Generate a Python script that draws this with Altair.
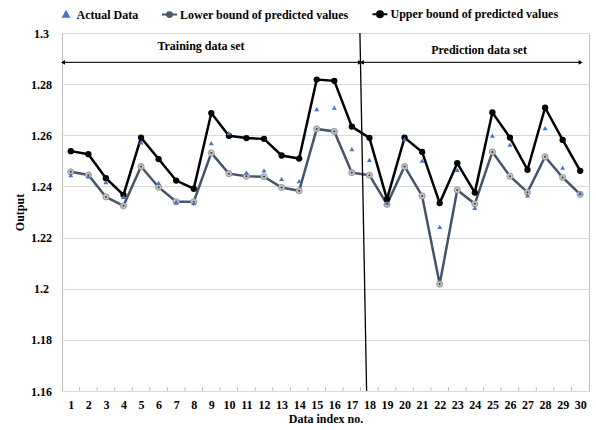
import altair as alt
import pandas as pd

# ---- data -------------------------------------------------------------
index = list(range(1, 31))

actual = [1.2444, 1.2439, 1.2417, 1.2359, 1.2572, 1.2414, 1.2339, 1.2335, 1.2569, 1.2608,
          1.2454, 1.2463, 1.2430, 1.2421, 1.2702, 1.2708, 1.2546, 1.2504, 1.2337, 1.2585,
          1.2501, 1.2242, 1.2465, 1.2316, 1.2599, 1.2563, 1.2365, 1.2628, 1.2474, 1.2374]

lower = [1.2457, 1.2445, 1.2359, 1.2324, 1.2478, 1.2397, 1.2340, 1.2340, 1.2531, 1.2450,
         1.2440, 1.2438, 1.2396, 1.2383, 1.2625, 1.2615, 1.2454, 1.2444, 1.2330, 1.2478,
         1.2363, 1.2018, 1.2386, 1.2332, 1.2535, 1.2440, 1.2377, 1.2516, 1.2435, 1.2369]

upper = [1.2538, 1.2526, 1.2432, 1.2367, 1.2591, 1.2507, 1.2423, 1.2391, 1.2687, 1.2598,
         1.2589, 1.2586, 1.2521, 1.2509, 1.2818, 1.2813, 1.2634, 1.2590, 1.2350, 1.2591,
         1.2535, 1.2335, 1.2491, 1.2376, 1.2689, 1.2591, 1.2465, 1.2708, 1.2582, 1.2461]

series_names = ["Actual Data", "Lower bound of predicted values",
                "Upper bound of predicted values"]
y_ticks = [1.16, 1.18, 1.2, 1.22, 1.24, 1.26, 1.28, 1.3]

# training / prediction split (divider drawn slightly slanted)
split_top, split_bottom = 17.46, 17.84
pred_start, pred_end = 17.57, 30.02
train_start = 0.56
arrow_level = 1.2885

section_labels = ["Training data set", "Prediction data set"]
section_x = [8.41, 24.24]
section_y = [1.2949, 1.2934]

# ---- styling ----------------------------------------------------------
FONT = "Liberation Serif"
BLUE = "#4472C4"
SLATE = "#44546A"
W, H = 527, 358

df = pd.DataFrame({"idx": index, "actual": actual, "lower": lower, "upper": upper})

x_scale = alt.Scale(domain=[0.5, 30.5], nice=False, zero=False)
y_scale = alt.Scale(domain=[1.16, 1.3], nice=False, zero=False)

x_axis = alt.Axis(values=index, format="d", grid=False, ticks=False, domain=False,
                  labelPadding=8, titlePadding=3)
y_axis = alt.Axis(values=y_ticks, format=".2~f", grid=True, gridColor="#d9d9d9",
                  ticks=False, domain=False, labelAlign="center", labelPadding=21,
                  titlePadding=4)


def X(field="idx"):
    return alt.X(f"{field}:Q", scale=x_scale, axis=x_axis, title="Data index no.")


def Y(field):
    return alt.Y(f"{field}:Q", scale=y_scale, axis=y_axis, title="Output")


base = alt.Chart(df)

lower_line = base.mark_line(color=SLATE, strokeWidth=2.5).encode(x=X(), y=Y("lower"))
upper_line = base.mark_line(color="black", strokeWidth=2.5).encode(x=X(), y=Y("upper"))

lower_pts = base.mark_point(shape="circle", filled=True, size=38, fill="#c4c4c4",
                            stroke="#9a9a9a", strokeWidth=1, opacity=1).encode(
    x=X(), y=Y("lower"))
lower_dot = base.mark_point(shape="circle", filled=True, size=4, color="#3a3a3a",
                            opacity=1).encode(x=X(), y=Y("lower"))
upper_pts = base.mark_point(shape="circle", filled=True, size=40, color="black",
                            opacity=1).encode(x=X(), y=Y("upper"))
actual_pts = base.mark_point(shape="triangle-up", filled=True, size=24, color=BLUE,
                             opacity=1).encode(x=X(), y=Y("actual"))

# small inward ticks on the bottom edge at category boundaries
bounds = pd.DataFrame({"b": [i + 0.5 for i in index[:-1]]})
edge_ticks = alt.Chart(bounds).mark_rule(color="#bfbfbf", strokeWidth=1).encode(
    x=X("b"), y=alt.value(H - 4), y2=alt.value(H))

# divider between training and prediction parts
divider_df = pd.DataFrame({"x": [split_top], "x2": [split_bottom],
                           "y": [1.3], "y2": [1.16]})
divider = alt.Chart(divider_df).mark_rule(color="black", strokeWidth=1.3).encode(
    x=X("x"), x2="x2:Q", y=Y("y"), y2="y2:Q")

# double-headed span arrows
arrows_df = pd.DataFrame({"s": [train_start, pred_start], "e": [split_top, pred_end],
                          "y": [arrow_level, arrow_level]})
arrow_lines = alt.Chart(arrows_df).mark_rule(color="#222222", strokeWidth=1.2).encode(
    x=X("s"), x2="e:Q", y=Y("y"))
heads_left = alt.Chart(arrows_df).mark_point(shape="triangle-left", filled=True,
                                             size=22, color="black", opacity=1).encode(
    x=X("s"), y=Y("y"))
heads_right = alt.Chart(arrows_df).mark_point(shape="triangle-right", filled=True,
                                              size=22, color="black", opacity=1).encode(
    x=X("e"), y=Y("y"))

text_df = pd.DataFrame({"label": section_labels, "x": section_x, "y": section_y})
section_text = alt.Chart(text_df).mark_text(font=FONT, fontSize=12, fontWeight="bold",
                                            color="black").encode(
    x=X("x"), y=Y("y"), text="label:N")

# legend: custom symbols (triangle, line with marker)
legend_paths = [
    "M0,-0.38L0.36,0.28L-0.36,0.28Z",
    "M-1,0L1,0M0.32,0A0.32,0.32,0,1,1,-0.32,0A0.32,0.32,0,1,1,0.32,0Z",
    "M-1,0L1,0M0.4,0A0.4,0.4,0,1,1,-0.4,0A0.4,0.4,0,1,1,0.4,0Z",
]
legend_cfg = alt.Legend(title=None, orient="none", direction="horizontal",
                        legendX=-4.5, legendY=-27.5, padding=0, columnPadding=19.5,
                        symbolSize=225, symbolStrokeWidth=2, labelOffset=2,
                        labelFont=FONT, labelFontSize=12, labelFontWeight="bold",
                        labelColor="black", labelLimit=400)
legend_df = pd.DataFrame({"series": series_names})
legend_layer = alt.Chart(legend_df).transform_filter("false").mark_point(
    filled=True, opacity=1).encode(
    x=alt.value(0), y=alt.value(0),
    shape=alt.Shape("series:N", scale=alt.Scale(domain=series_names, range=legend_paths),
                    legend=legend_cfg),
    fill=alt.Fill("series:N", scale=alt.Scale(domain=series_names,
                                             range=[BLUE, "#a6a6a6", "black"]),
                  legend=legend_cfg),
    stroke=alt.Stroke("series:N", scale=alt.Scale(domain=series_names,
                                                 range=[BLUE, SLATE, "black"]),
                      legend=legend_cfg),
)

chart = alt.layer(
    edge_ticks, lower_line, upper_line, lower_pts, lower_dot, upper_pts, actual_pts,
    divider, arrow_lines, heads_left, heads_right, section_text, legend_layer,
).properties(
    width=W, height=H,
    autosize=alt.AutoSizeParams(type="none"),
    padding={"left": 62, "top": 33, "right": 7, "bottom": 39},
).configure_view(
    stroke="#bfbfbf", strokeWidth=1,
).configure_axis(
    labelFont=FONT, labelFontSize=12, labelFontWeight="bold", labelColor="black",
    titleFont=FONT, titleFontSize=12, titleFontWeight="bold", titleColor="black",
)

chart.save("out.html", embed_options={"renderer": "svg", "actions": False})
